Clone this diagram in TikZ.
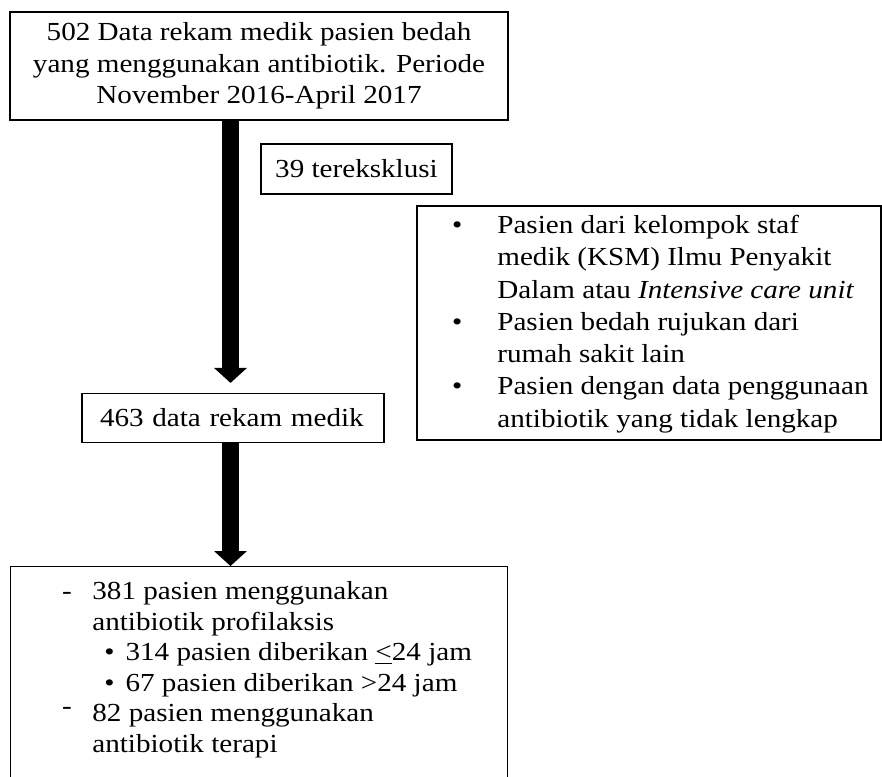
\documentclass[tikz,border=0pt]{standalone}
\usepackage{fontspec}
\setmainfont[FakeStretch=1.12]{Liberation Serif}
\usetikzlibrary{arrows.meta, positioning}

\tikzset{
    kotak/.style={draw, rectangle, line width=0.6pt, inner sep=0pt},
    isi/.style={inner sep=0pt, align=left},
    panah/.style={line width=8.5pt, -{Triangle[width=16.5pt, length=7.5pt, line width=0pt]}}
}

\begin{document}
\begin{tikzpicture}[x=0.5pt, y=-0.5pt]
        \useasboundingbox (0,0) rectangle (882,776);
        % Boxes on the main path
        \node[kotak, minimum width=249pt, minimum height=54pt, align=center, font=\fontsize{13pt}{15.75pt}\selectfont] (awal) at (259,66) {502 Data rekam medik pasien bedah\\ yang menggunakan antibiotik. Periode\\ November 2016-April 2017};
        \node[kotak, minimum width=151pt, minimum height=24.5pt, text width=133pt, align=left, font=\fontsize{13pt}{15.5pt}\selectfont] (sisa) at (233,418) {463 data rekam medik};
        \node[kotak, anchor=north west, minimum width=248.5pt, minimum height=112pt] (hasil) at (10,566) {};
        \node[isi, anchor=north west, font=\fontsize{13pt}{15.3pt}\selectfont] (rincian) at (92,581) {\llap{-\hspace{10.3pt}}381 pasien menggunakan\\
            antibiotik profilaksis\\
            \hspace*{6pt}\textbullet\hspace{5.5pt}314 pasien diberikan \underline{<}24 jam\\
            \hspace*{6pt}\textbullet\hspace{5.5pt}67 pasien diberikan >24 jam\\
            \llap{\raisebox{3.5pt}{-}\hspace{10.3pt}}82 pasien menggunakan\\
            antibiotik terapi};

        % Boxes for the excluded records
        \node[kotak, minimum width=95.5pt, minimum height=25pt, font=\fontsize{13pt}{15.5pt}\selectfont] (eksklusi) at (356.5,169) {39 tereksklusi};
        \node[kotak, minimum width=232pt, minimum height=117pt] (kriteria) at (649,323) {};
        \node[isi, anchor=west, font=\fontsize{13pt}{16.15pt}\selectfont] (alasan) at (497,324) {\llap{\textbullet\hspace{17.5pt}}Pasien dari kelompok staf\\
            medik (KSM) Ilmu Penyakit\\
            Dalam atau \textit{Intensive care unit}\\
            \llap{\textbullet\hspace{17.5pt}}Pasien bedah rujukan dari\\
            rumah sakit lain\\
            \llap{\textbullet\hspace{17.5pt}}Pasien dengan data penggunaan\\
            antibiotik yang tidak lengkap};

        % Thick arrows
        \coordinate (sumbu) at (230.5,0);
        \draw[panah, shorten >=5pt] (awal.south -| sumbu) -- (sisa.north -| sumbu);
        \draw[panah] (sisa.south -| sumbu) -- (hasil.north -| sumbu);
\end{tikzpicture}
\end{document}
